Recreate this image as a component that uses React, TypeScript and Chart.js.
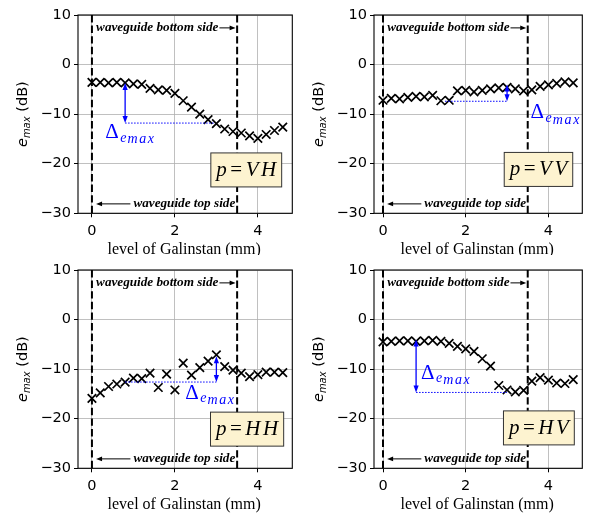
import React, { useEffect, useRef } from "react";
import { Chart, registerables } from "chart.js";

Chart.register(...registerables);

// ---------------- data ----------------
const galinstanLevels = [0, 0.2, 0.4, 0.6, 0.8, 1.0, 1.2, 1.4, 1.6, 1.8, 2.0, 2.2, 2.4, 2.6, 2.8, 3.0, 3.2, 3.4, 3.6, 3.8, 4.0, 4.2, 4.4, 4.6];
const emaxVH = [-3.6, -3.6, -3.7, -3.6, -3.7, -3.9, -4.0, -4.8, -5.1, -5.2, -5.8, -7.3, -8.6, -10.0, -11.1, -11.9, -13.0, -13.5, -13.8, -14.4, -14.9, -14.1, -13.3, -12.6];
const emaxVV = [-7.2, -6.8, -6.9, -6.6, -6.4, -6.5, -6.2, -7.3, -7.2, -5.3, -5.2, -5.5, -5.2, -4.9, -4.7, -4.6, -4.9, -5.3, -5.1, -4.4, -4.1, -3.8, -3.5, -3.7];
const emaxHH = [-15.9, -14.8, -13.5, -13.0, -12.6, -11.8, -11.9, -10.8, -13.7, -11.0, -14.2, -8.8, -11.2, -9.7, -8.4, -7.1, -9.5, -10.2, -10.8, -11.5, -11.1, -10.6, -10.6, -10.7];
const emaxHV = [-4.5, -4.4, -4.3, -4.3, -4.4, -4.3, -4.2, -4.4, -4.8, -5.4, -5.9, -6.4, -7.9, -9.4, -13.3, -14.2, -14.6, -14.3, -12.4, -11.7, -12.2, -12.8, -12.9, -12.1];
const xTicks = [0, 2, 4];
const yTicks = [-30, -20, -10, 0, 10];
const waveguideEdges = [0, 3.5];
const xLabel = "level of Galinstan (mm)";
const bottomSideLabel = "waveguide bottom side";
const topSideLabel = "waveguide top side";

// ---------------- panels ----------------
type Panel = {
  pol: [string, string];
  values: number[];
  left: number; top: number; width: number; height: number;
  yAxisWidth: number; padTop: number; padRight: number; xAxisHeight: number;
  xMin: number; xMax: number;
  delta: { x: number; top: number; bottom: number; from: number; to: number; labelX: number; labelY: number };
  box: { x: number; y: number };
};

const panels: Panel[] = [
  {
    pol: ["V", "H"], values: emaxVH,
    left: 0, top: 0, width: 300, height: 255,
    yAxisWidth: 78, padTop: 15, padRight: 2, xAxisHeight: 41.7,
    xMin: -0.336, xMax: 4.83,
    delta: { x: 0.8, top: -3.7, bottom: -11.8, from: 0.8, to: 2.95, labelX: 0.32, labelY: -14.85 },
    box: { x: 3.72, y: -21.25 },
  },
  {
    pol: ["V", "V"], values: emaxVV,
    left: 300, top: 0, width: 290, height: 255,
    yAxisWidth: 74, padTop: 15, padRight: 1, xAxisHeight: 41.7,
    xMin: -0.218, xMax: 4.82,
    delta: { x: 3.0, top: -4.0, bottom: -7.4, from: 1.5, to: 3.0, labelX: 3.57, labelY: -10.87 },
    box: { x: 3.76, y: -21.15 },
  },
  {
    pol: ["H", "H"], values: emaxHH,
    left: 0, top: 255, width: 300, height: 264,
    yAxisWidth: 78, padTop: 15, padRight: 2, xAxisHeight: 50.7,
    xMin: -0.336, xMax: 4.83,
    delta: { x: 3.0, top: -7.4, bottom: -12.6, from: 0.8, to: 3.0, labelX: 2.25, labelY: -16.0 },
    box: { x: 3.74, y: -22.1 },
  },
  {
    pol: ["H", "V"], values: emaxHV,
    left: 300, top: 255, width: 290, height: 264,
    yAxisWidth: 74, padTop: 15, padRight: 1, xAxisHeight: 50.7,
    xMin: -0.218, xMax: 4.82,
    delta: { x: 0.8, top: -4.0, bottom: -14.7, from: 0.8, to: 3.0, labelX: 0.92, labelY: -12.0 },
    box: { x: 3.77, y: -21.85 },
  },
];

const SERIF = '"Liberation Serif", "DejaVu Serif", serif';
const SANS = '"DejaVu Sans", sans-serif';
const BLUE = "#0000ff";

type Part = { t: string; font: string; dy?: number; gap?: number; spacing?: number };

function partWidth(ctx: CanvasRenderingContext2D, p: Part) {
  ctx.font = p.font;
  let w = 0;
  if (p.spacing) {
    for (const ch of p.t) w += ctx.measureText(ch).width + p.spacing;
  } else w = ctx.measureText(p.t).width;
  return w + (p.gap || 0);
}

function runWidth(ctx: CanvasRenderingContext2D, parts: Part[]) {
  return parts.reduce((s, p) => s + partWidth(ctx, p), 0);
}

function drawRun(ctx: CanvasRenderingContext2D, parts: Part[], x: number, y: number) {
  ctx.textAlign = "left";
  ctx.textBaseline = "alphabetic";
  let cx = x;
  for (const p of parts) {
    ctx.font = p.font;
    if (p.spacing) {
      for (const ch of p.t) {
        ctx.fillText(ch, cx, y + (p.dy || 0));
        cx += ctx.measureText(ch).width + p.spacing;
      }
    } else {
      ctx.fillText(p.t, cx, y + (p.dy || 0));
      cx += ctx.measureText(p.t).width;
    }
    cx += p.gap || 0;
  }
  return cx;
}

function arrowHead(ctx: CanvasRenderingContext2D, tx: number, ty: number, dx: number, dy: number, len: number, hw: number) {
  const bx = tx - dx * len, by = ty - dy * len;
  const nx = -dy, ny = dx;
  ctx.beginPath();
  ctx.moveTo(tx, ty);
  ctx.lineTo(bx + nx * hw, by + ny * hw);
  ctx.lineTo(bx - nx * hw, by - ny * hw);
  ctx.closePath();
  ctx.fill();
}

function fmt(v: number) {
  return v < 0 ? "\u2212" + Math.abs(v) : String(v);
}

function makePlugin(p: Panel) {
  return {
    id: "panelDecor",
    beforeDatasetsDraw(chart: any) {
      const { ctx, chartArea: a, scales } = chart;
      const xs = scales.x;
      ctx.save();
      ctx.beginPath();
      ctx.rect(a.left, a.top, a.right - a.left, a.bottom - a.top);
      ctx.clip();
      ctx.strokeStyle = "#000";
      ctx.lineWidth = 2;
      ctx.setLineDash([7.4, 3.2]);
      for (const e of waveguideEdges) {
        const x = xs.getPixelForValue(e);
        ctx.beginPath();
        ctx.moveTo(x, a.top);
        ctx.lineTo(x, a.bottom);
        ctx.stroke();
      }
      ctx.restore();
    },
    afterDatasetsDraw(chart: any) {
      const { ctx, chartArea: a, scales } = chart;
      const px = (v: number) => scales.x.getPixelForValue(v);
      const py = (v: number) => scales.y.getPixelForValue(v);
      ctx.save();

      // waveguide annotations
      ctx.fillStyle = "#000";
      ctx.strokeStyle = "#000";
      ctx.lineWidth = 1;
      const annFont = `italic bold 13.2px ${SERIF}`;
      ctx.font = annFont;
      // bottom side
      const by = py(7.4);
      const bx = px(0.1);
      ctx.textAlign = "left";
      ctx.textBaseline = "alphabetic";
      ctx.fillText(bottomSideLabel, bx, by + 3);
      const bw = ctx.measureText(bottomSideLabel).width;
      const bTip = px(3.5) - 1.5;
      ctx.beginPath();
      ctx.moveTo(bx + bw + 1, by);
      ctx.lineTo(bTip - 5, by);
      ctx.stroke();
      arrowHead(ctx, bTip, by, 1, 0, 6, 2.3);
      // top side
      const ty = py(-28.1);
      const tx = px(1.0);
      ctx.fillText(topSideLabel, tx, ty + 3);
      const tTip = px(0.1);
      ctx.beginPath();
      ctx.moveTo(tx - 3, ty);
      ctx.lineTo(tTip + 5, ty);
      ctx.stroke();
      arrowHead(ctx, tTip, ty, -1, 0, 6, 2.3);

      // delta annotation
      const d = p.delta;
      ctx.strokeStyle = BLUE;
      ctx.fillStyle = BLUE;
      ctx.lineWidth = 1;
      ctx.setLineDash([1.5, 1.5]);
      ctx.beginPath();
      ctx.moveTo(px(d.from), py(d.bottom));
      ctx.lineTo(px(d.to), py(d.bottom));
      ctx.stroke();
      ctx.setLineDash([]);
      ctx.lineWidth = 1.3;
      const ax = px(d.x);
      const y1 = py(d.top), y2 = py(d.bottom);
      ctx.beginPath();
      ctx.moveTo(ax, y1 + 5);
      ctx.lineTo(ax, y2 - 5);
      ctx.stroke();
      arrowHead(ctx, ax, y1, 0, -1, 7, 2.6);
      arrowHead(ctx, ax, y2, 0, 1, 7, 2.6);
      drawRun(ctx, [
        { t: "\u0394", font: `21px ${SERIF}`, gap: 1.5 },
        { t: "e", font: `italic 14px ${SERIF}`, dy: 3.4, gap: 1 },
        { t: "max", font: `italic 14px ${SERIF}`, dy: 5.2, spacing: 1.6 },
      ], px(d.labelX), py(d.labelY));

      // polarization box
      const parts: Part[] = [
        { t: "p", font: `italic 21px ${SERIF}`, gap: 3.5 },
        { t: "=", font: `21px ${SERIF}`, gap: 3.5 },
        { t: p.pol[0], font: `italic 21px ${SERIF}`, gap: 2.5 },
        { t: p.pol[1], font: `italic 21px ${SERIF}` },
      ];
      const w = runWidth(ctx, parts);
      const cx = px(p.box.x), cy = py(p.box.y);
      const bwid = w + 11, bh = 34;
      ctx.fillStyle = "#fdf3d0";
      ctx.strokeStyle = "#333";
      ctx.lineWidth = 1;
      ctx.fillRect(cx - bwid / 2, cy - bh / 2, bwid, bh);
      ctx.strokeRect(cx - bwid / 2, cy - bh / 2, bwid, bh);
      ctx.fillStyle = "#000";
      drawRun(ctx, parts, cx - w / 2, cy + 6);

      // axes frame
      ctx.strokeStyle = "#000";
      ctx.lineWidth = 1.1;
      ctx.strokeRect(a.left, a.top, a.right - a.left, a.bottom - a.top);
      ctx.restore();
    },
    afterDraw(chart: any) {
      const { ctx, chartArea: a } = chart;
      ctx.save();
      ctx.fillStyle = "#000";
      // x title
      ctx.font = `16px ${SERIF}`;
      ctx.textAlign = "center";
      ctx.textBaseline = "alphabetic";
      ctx.fillText(xLabel, (a.left + a.right) / 2 - 1, a.bottom + 41);
      // y title
      const parts: Part[] = [
        { t: "e", font: `italic 14.5px ${SANS}` },
        { t: "max", font: `italic 10px ${SANS}`, dy: 2.5 },
        { t: " (dB)", font: `14.5px ${SANS}` },
      ];
      const w = runWidth(ctx, parts);
      ctx.translate(a.left - 51, (a.top + a.bottom) / 2);
      ctx.rotate(-Math.PI / 2);
      drawRun(ctx, parts, -w / 2, 0);
      ctx.restore();
    },
  };
}

function PanelChart({ p }: { p: Panel }) {
  const ref = useRef<HTMLCanvasElement | null>(null);
  useEffect(() => {
    const canvas = ref.current;
    if (!canvas) return;
    const gridOpts = {
      color: "#b0b0b0",
      lineWidth: 0.8,
      drawOnChartArea: true,
      drawTicks: true,
      tickLength: 4,
      tickColor: "#000",
      tickWidth: 1,
    };
    const tickFont = { family: SANS, size: 14.5 };
    const chart = new Chart(canvas, {
      type: "scatter",
      data: {
        datasets: [
          {
            data: galinstanLevels.map((x, i) => ({ x, y: p.values[i] })),
            pointStyle: "crossRot",
            pointRadius: 6,
            pointHoverRadius: 6,
            borderColor: "#000",
            backgroundColor: "rgba(0,0,0,0)",
            borderWidth: 1.7,
            pointBorderWidth: 1.7,
            showLine: false,
          } as any,
        ],
      },
      options: {
        responsive: false,
        animation: false,
        events: [],
        layout: { padding: { left: 0, top: p.padTop, right: p.padRight, bottom: 0 } },
        plugins: {
          legend: { display: false },
          tooltip: { enabled: false },
          title: { display: false },
        },
        scales: {
          x: {
            type: "linear",
            min: p.xMin,
            max: p.xMax,
            afterBuildTicks: (s: any) => {
              s.ticks = xTicks.map((v) => ({ value: v }));
            },
            afterFit: (s: any) => {
              s.height = p.xAxisHeight;
            },
            grid: gridOpts,
            border: { display: false },
            ticks: { font: tickFont, color: "#000", padding: 5.5, maxRotation: 0, autoSkip: false, callback: (v: any) => fmt(Number(v)) },
          },
          y: {
            type: "linear",
            min: -30,
            max: 10,
            afterBuildTicks: (s: any) => {
              s.ticks = yTicks.map((v) => ({ value: v }));
            },
            afterFit: (s: any) => {
              s.width = p.yAxisWidth;
            },
            grid: gridOpts,
            border: { display: false },
            ticks: { font: tickFont, color: "#000", padding: 3, autoSkip: false, callback: (v: any) => fmt(Number(v)) },
          },
        },
      } as any,
      plugins: [makePlugin(p)],
    });
    return () => chart.destroy();
  }, [p]);
  return (
    <div style={{ position: "absolute", left: p.left, top: p.top, width: p.width, height: p.height }}>
      <canvas ref={ref} width={p.width} height={p.height} style={{ width: p.width, height: p.height, display: "block" }} />
    </div>
  );
}

export default function App() {
  return (
    <div style={{ position: "absolute", left: 0, top: 0, width: 590, height: 519, background: "#fff", overflow: "hidden" }}>
      {panels.map((p, i) => (
        <PanelChart key={i} p={p} />
      ))}
    </div>
  );
}
